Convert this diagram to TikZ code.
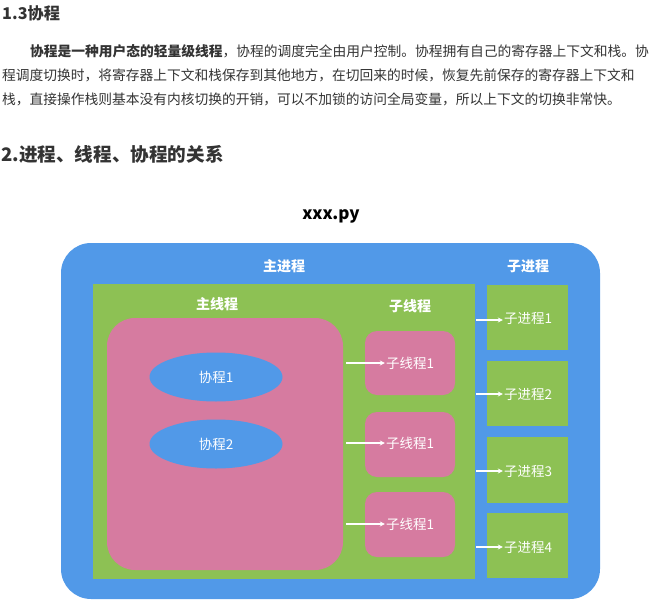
\documentclass[tikz,border=0pt]{standalone}
\usepackage{fontspec}
\setmainfont{Noto Sans CJK SC}
\usetikzlibrary{shapes.geometric,arrows.meta}
\definecolor{bluebg}{HTML}{5199E8}
\definecolor{greenbg}{HTML}{8DC154}
\definecolor{pinkbg}{HTML}{D67BA0}
\definecolor{txt}{HTML}{333333}
\tikzset{
  outerbox/.style={fill=bluebg, draw=none, rounded corners=30pt, minimum width=539pt, minimum height=356pt, inner sep=0pt},
  greenbox/.style={fill=greenbg, draw=none, inner sep=0pt},
  pinkbox/.style={fill=pinkbg, draw=none, inner sep=0pt},
  coro/.style={ellipse, fill=bluebg, draw=none, minimum width=133pt, minimum height=49pt, inner sep=0pt, text=white, font=\fontsize{13.5pt}{15pt}\selectfont},
  wlabel/.style={text=white, inner sep=1pt, font=\fontsize{13.5pt}{15pt}\selectfont},
  wtitle/.style={text=white, inner sep=0pt, font=\bfseries\fontsize{14pt}{16pt}\selectfont},
  warrow/.style={draw=white, line width=1.3pt, -{Stealth[length=5pt,width=5pt]}},
  paraline/.style={anchor=west, inner sep=0pt, text=txt, font=\fontsize{13.75pt}{16pt}\selectfont},
}
\begin{document}
\begin{tikzpicture}[x=1pt,y=-1pt]
\useasboundingbox (0,0) rectangle (658,607);
% headings and paragraph
\node[anchor=west, inner sep=0pt, text=txt, font=\bfseries\fontsize{16.2pt}{18pt}\selectfont] (h1) at (2,13) {1.3协程};
\node[paraline] (p1) at (30,51) {\textbf{协程是一种用户态的轻量级线程}，协程的调度完全由用户控制。协程拥有自己的寄存器上下文和栈。协};
\node[paraline] (p2) at (2,75) {程调度切换时，将寄存器上下文和栈保存到其他地方，在切回来的时候，恢复先前保存的寄存器上下文和};
\node[paraline] (p3) at (2,99) {栈，直接操作栈则基本没有内核切换的开销，可以不加锁的访问全局变量，所以上下文的切换非常快。};
\node[anchor=west, inner sep=0pt, text=txt, font=\bfseries\fontsize{18.6pt}{21pt}\selectfont] (h2) at (1,154) {2.进程、线程、协程的关系};
\node[inner sep=0pt, text=black, font=\bfseries\fontsize{17pt}{19pt}\selectfont] (title) at (331,216) {xxx.py};
% boxes
\node[outerbox] (outer) at (330.5,421) {};
\node[greenbox, minimum width=382pt, minimum height=295pt] (mainproc) at (284,431.5) {};
\node[pinkbox, rounded corners=28pt, minimum width=236pt, minimum height=252pt] (mainthread) at (225,444) {};
\node[coro] (c1) at (216,377) {协程1};
\node[coro] (c2) at (216,444) {协程2};
\node[pinkbox, rounded corners=12pt, minimum width=90pt, minimum height=64pt] (st1) at (410,363) {};
\node[pinkbox, rounded corners=12pt, minimum width=90pt, minimum height=65pt] (st2) at (410,444.5) {};
\node[pinkbox, rounded corners=12pt, minimum width=90pt, minimum height=65pt] (st3) at (410,524.5) {};
\node[greenbox, minimum width=81pt, minimum height=65pt] (sp1) at (527.5,317.5) {};
\node[greenbox, minimum width=81pt, minimum height=65pt] (sp2) at (527.5,393.5) {};
\node[greenbox, minimum width=81pt, minimum height=66pt] (sp3) at (527.5,470) {};
\node[greenbox, minimum width=81pt, minimum height=65pt] (sp4) at (527.5,545.5) {};
% titles
\node[wtitle] (tmp) at (284,266) {主进程};
\node[wtitle] (tsp) at (528,266) {子进程};
\node[wtitle] (tmt) at (217,304) {主线程};
\node[wtitle] (tst) at (410,306) {子线程};
% labels
\node[wlabel] (l1) at (410,363) {子线程1};
\node[wlabel] (l2) at (410,443) {子线程1};
\node[wlabel] (l3) at (410,524) {子线程1};
\node[wlabel] (q1) at (528,318) {子进程1};
\node[wlabel] (q2) at (528,394) {子进程2};
\node[wlabel] (q3) at (528,471) {子进程3};
\node[wlabel] (q4) at (528,547) {子进程4};
% arrow start points
\coordinate (a1) at (346,363);
\coordinate (a2) at (346,443);
\coordinate (a3) at (346,524);
\coordinate (b1) at (476,320);
\coordinate (b2) at (476,394);
\coordinate (b3) at (476,471);
\coordinate (b4) at (476,547);
\draw[warrow] (a1) -- (l1.west);
\draw[warrow] (a2) -- (l2.west);
\draw[warrow] (a3) -- (l3.west);
\draw[warrow] (b1) -- (q1.west |- b1);
\draw[warrow] (b2) -- (q2.west);
\draw[warrow] (b3) -- (q3.west);
\draw[warrow] (b4) -- (q4.west);
\end{tikzpicture}
\end{document}
